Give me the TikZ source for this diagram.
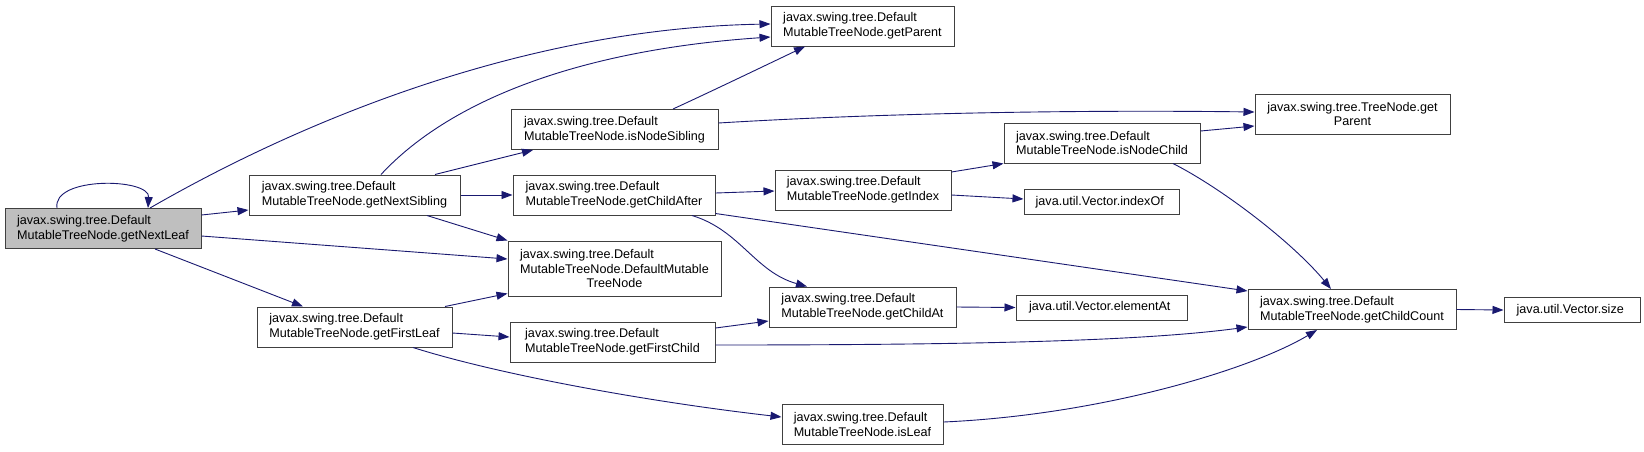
\documentclass[tikz,border=0pt]{standalone}
\usepackage{fontspec}
\setmainfont{Liberation Sans}
\usepackage{xcolor}
\usepackage{tikz}
\usetikzlibrary{arrows.meta}

\definecolor{edgeblue}{HTML}{191970}
\definecolor{boxline}{HTML}{404040}
\definecolor{boxgray}{HTML}{BFBFBF}

\begin{document}
\begin{tikzpicture}[
    x=1pt,
    y=-1pt,
    box/.style={
        draw=boxline,
        line width=1pt,
        fill=white,
        align=left,
        font=\fontsize{12.6}{14.7}\selectfont,
        inner xsep=4pt,
        inner ysep=2pt,
        minimum height=40pt
    },
    small/.style={
        box,
        minimum height=25pt
    },
    current/.style={
        box,
        fill=boxgray
    },
    arrow/.style={
        -{Triangle[length=11pt,width=8pt]},
        draw=edgeblue,
        line width=0.9pt
    }
]

\path[fill=white] (0,0) rectangle (1644,451);

\node[current, minimum width=196pt] (nextleaf) at (103,228.5)
{
    javax.swing.tree.Default\\
    MutableTreeNode.getNextLeaf
};

\node[box, minimum width=211pt] (nextsib) at (354.5,195)
{
    javax.swing.tree.Default\\
    MutableTreeNode.getNextSibling
};

\node[box, minimum width=195pt] (firstleaf) at (354.5,327)
{
    javax.swing.tree.Default\\
    MutableTreeNode.getFirstLeaf
};

\node[box, minimum width=183pt] (parent) at (862.5,26)
{
    javax.swing.tree.Default\\
    MutableTreeNode.getParent
};

\node[box, minimum width=207pt] (nodesib) at (614.5,129.5)
{
    javax.swing.tree.Default\\
    MutableTreeNode.isNodeSibling
};

\node[box, minimum width=202pt] (childafter) at (614,195)
{
    javax.swing.tree.Default\\
    MutableTreeNode.getChildAfter
};

\node[box, minimum width=213pt, minimum height=55pt] (ctor) at (614.5,268.5)
{
    javax.swing.tree.Default\\
    MutableTreeNode.DefaultMutable\\
    \hspace*{\fill}TreeNode\hspace*{\fill}
};

\node[box, minimum width=205pt] (firstchild) at (612.5,342)
{
    javax.swing.tree.Default\\
    MutableTreeNode.getFirstChild
};

\node[box, minimum width=176pt] (index) at (863,190)
{
    javax.swing.tree.Default\\
    MutableTreeNode.getIndex
};

\node[box, minimum width=187pt] (childat) at (862.5,307)
{
    javax.swing.tree.Default\\
    MutableTreeNode.getChildAt
};

\node[box, minimum width=161pt] (isleaf) at (862.5,424.5)
{
    javax.swing.tree.Default\\
    MutableTreeNode.isLeaf
};

\node[box, minimum width=196pt] (nodechild) at (1102,143)
{
    javax.swing.tree.Default\\
    MutableTreeNode.isNodeChild
};

\node[box, minimum width=195pt, align=center] (tnparent) at (1352.5,114)
{
    javax.swing.tree.TreeNode.get\\
    Parent
};

\node[small, minimum width=155pt] (indexof) at (1101.5,202)
{
    java.util.Vector.indexOf
};

\node[small, minimum width=171pt] (elementat) at (1101.5,307.5)
{
    java.util.Vector.elementAt
};

\node[box, minimum width=208pt] (childcount) at (1352,309.5)
{
    javax.swing.tree.Default\\
    MutableTreeNode.getChildCount
};

\node[small, minimum width=136pt] (size) at (1572,310)
{
    java.util.Vector.size
};

% calls of getNextLeaf
\draw[arrow] ([xshift=-46pt]nextleaf.north) .. controls (52,176) and (150,178) .. ([xshift=45pt]nextleaf.north);
\draw[arrow] ([xshift=47pt]nextleaf.north) .. controls (320,110) and (540,28) .. ([yshift=2pt]parent.west);
\draw[arrow] ([yshift=13.5pt]nextleaf.east) -- ([yshift=-15pt]nextsib.west);
\draw[arrow] ([yshift=-7.5pt]nextleaf.east) -- ([yshift=9.5pt]ctor.west);
\draw[arrow] ([xshift=52pt]nextleaf.south) -- ([xshift=-51.5pt]firstleaf.north);

% calls of getNextSibling
\draw[arrow] ([xshift=26.5pt]nextsib.north) .. controls (450,100) and (580,50) .. ([yshift=-11pt]parent.west);
\draw[arrow] ([xshift=80.5pt]nextsib.north) -- ([xshift=-81.5pt]nodesib.south);
\draw[arrow] (nextsib.east) -- (childafter.west);
\draw[arrow] ([xshift=72.5pt]nextsib.south) -- (ctor.north west);

% calls of getFirstLeaf
\draw[arrow] ([xshift=90.5pt]firstleaf.north) -- ([yshift=3pt]ctor.south west);
\draw[arrow] ([yshift=-6pt]firstleaf.east) -- ([yshift=5pt]firstchild.west);
\draw[arrow] ([xshift=58.5pt]firstleaf.south) .. controls (500,375) and (650,402) .. ([yshift=7.5pt]isleaf.west);

% calls of isNodeSibling
\draw[arrow] ([xshift=58.5pt]nodesib.north) .. controls (710,92) and (760,68) .. ([xshift=-57.5pt]parent.south);
\draw[arrow] ([yshift=6.5pt]nodesib.east) .. controls (900,112) and (1100,110) .. ([yshift=2pt]tnparent.west);

% calls of getChildAfter
\draw[arrow] ([yshift=2pt]childafter.east) -- ([yshift=-1pt]index.west);
\draw[arrow] ([yshift=2pt]childafter.south east) -- ([yshift=-2pt]childcount.north west);
\draw[arrow] ([xshift=78pt]childafter.south) .. controls (740,230) and (755,272) .. ([xshift=-55.5pt]childat.north);

% calls of getIndex
\draw[arrow] ([yshift=18pt]index.east) -- (nodechild.south west);
\draw[arrow] ([yshift=-5pt]index.east) -- ([yshift=3pt]indexof.west);

% calls of isNodeChild
\draw[arrow] ([yshift=12pt]nodechild.east) -- ([yshift=-12pt]tnparent.west);
\draw[arrow] ([xshift=71pt]nodechild.south) .. controls (1225,190) and (1295,245) .. ([xshift=-21pt]childcount.north);

% remaining calls
\draw[arrow] (childat.east) -- (elementat.west);
\draw[arrow] ([yshift=14pt]firstchild.east) -- ([yshift=-14pt]childat.west);
\draw[arrow] ([yshift=-3pt]firstchild.east) .. controls (1000,345) and (1150,340) .. ([yshift=3pt]childcount.south west);
\draw[arrow] ([yshift=2.5pt]isleaf.east) .. controls (1100,415) and (1250,370) .. ([xshift=-35pt]childcount.south);
\draw[arrow] (childcount.east) -- (size.west);

\end{tikzpicture}
\end{document}
